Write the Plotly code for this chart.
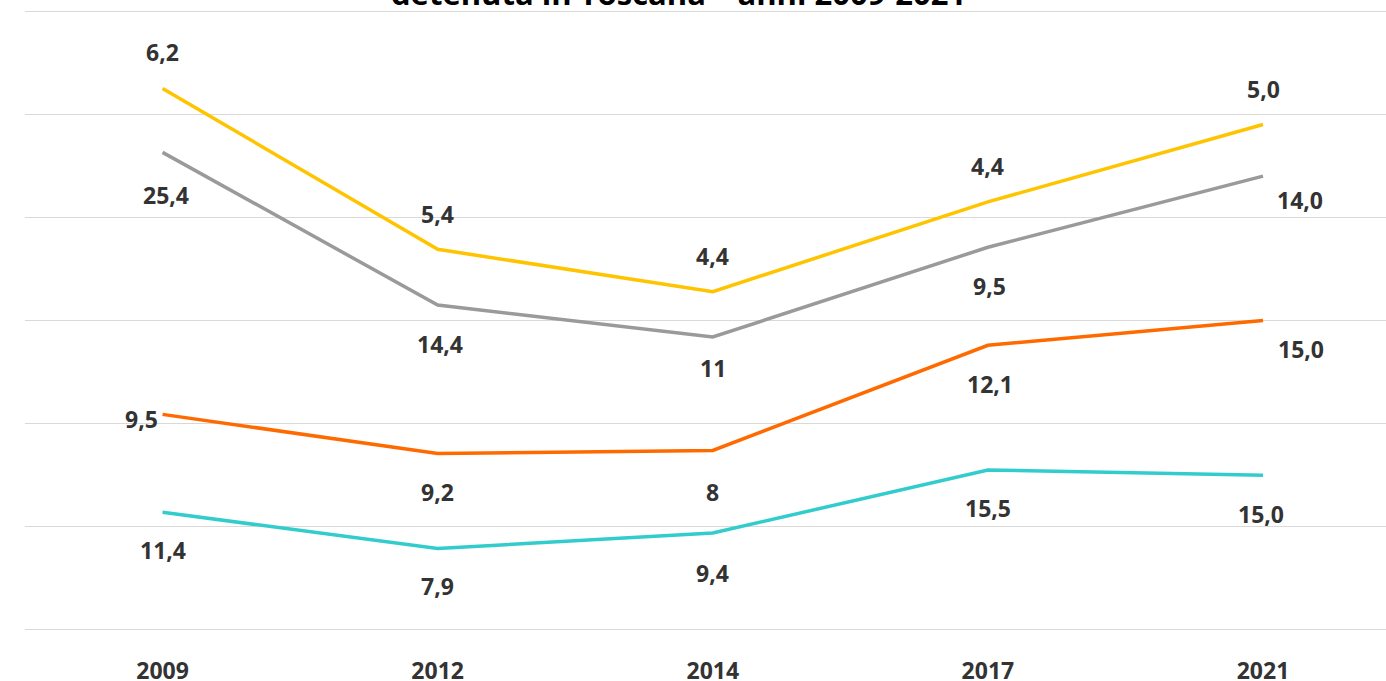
import numpy as np
import plotly.graph_objects as go

years = ["2009", "2012", "2014", "2017", "2021"]
# series, bottom to top (stacked)
cyan_vals = [11.4, 7.9, 9.4, 15.5, 15.0]
orange_vals = [9.5, 9.2, 8.0, 12.1, 15.0]
gray_vals = [25.4, 14.4, 11.0, 9.5, 14.0]
yellow_vals = [6.2, 5.4, 4.4, 4.4, 5.0]

cyan_text = ["11,4", "7,9", "9,4", "15,5", "15,0"]
orange_text = ["9,5", "9,2", "8", "12,1", "15,0"]
gray_text = ["25,4", "14,4", "11", "9,5", "14,0"]
yellow_text = ["6,2", "5,4", "4,4", "4,4", "5,0"]

title_text = "detenuta in Toscana – anni 2009-2021"

series = [
    (cyan_vals, cyan_text, "#33CCCC"),
    (orange_vals, orange_text, "#FF6A00"),
    (gray_vals, gray_text, "#9A9A9A"),
    (yellow_vals, yellow_text, "#FFC400"),
]

# label pixel offsets (dx, dy) per series/point
offsets = [
    [(0, -38), (0, -38), (0, -40), (0, -38), (-2, -39)],
    [(-21, -5), (0, -38), (0, -42), (2, -39), (38, -28)],
    [(3, -43), (2, -39), (0, -31), (2, -39), (37, -24)],
    [(0, 36), (0, 35), (0, 36), (0, 36), (0, 36)],
]

x = np.arange(len(years))
fig = go.Figure()
cum = np.zeros(len(years))
annotations = []
for (vals, texts, color), offs in zip(series, offsets):
    cum = cum + np.array(vals)
    fig.add_trace(go.Scatter(x=x, y=cum, mode="lines",
                             line=dict(color=color, width=3.5),
                             showlegend=False, hoverinfo="skip"))
    for xi, yi, t, (dx, dy) in zip(x, cum, texts, offs):
        annotations.append(dict(x=xi, y=yi, xref="x", yref="y", text=t,
                                showarrow=False, xshift=dx, yshift=dy,
                                font=dict(family="Open Sans", size=23, color="#333333",
                                          weight="bold")))

annotations.append(dict(x=0.48, y=1.0, xref="paper", yref="paper", text=title_text,
                        showarrow=False, xanchor="center", yanchor="bottom", yshift=-7,
                        font=dict(family="Open Sans", size=31, color="#000000",
                                  weight="bold")))

fig.update_layout(
    width=1386, height=681,
    margin=dict(l=25, r=0, t=9, b=49),
    paper_bgcolor="white", plot_bgcolor="white",
    annotations=annotations,
    xaxis=dict(tickmode="array", tickvals=x, ticktext=years, range=[-0.5, 4.447],
               showgrid=False, zeroline=False, showline=False, ticks="",
               automargin=False, ticklabelstandoff=23,
               tickfont=dict(family="Open Sans", size=23, color="#333333", weight="bold")),
    yaxis=dict(range=[-0.2, 60.2], dtick=10, showgrid=True, gridcolor="#D9D9D9", gridwidth=1.3,
               showticklabels=False, zeroline=False, ticks="", automargin=False),
)

fig.write_html("out.html", config={"displayModeBar": False},
               post_script="document.body.style.margin='0';document.body.style.overflow='hidden';")
